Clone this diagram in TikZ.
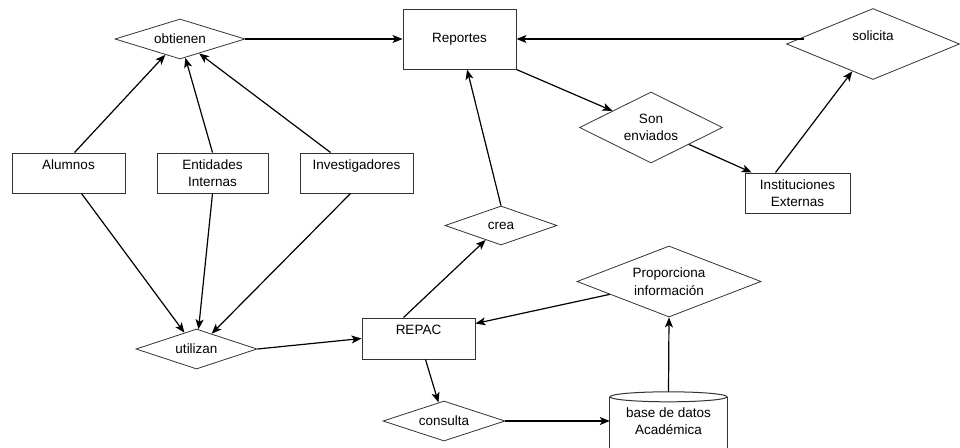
\documentclass[tikz,border=0pt]{standalone}
\usepackage{fontspec}
\setmainfont{Liberation Sans}
\usetikzlibrary{shapes.geometric,arrows.meta}

\begin{document}
\begin{tikzpicture}[x=1pt,y=-1pt,
  font=\fontsize{13.5}{17.5}\selectfont,
  relacion/.style={diamond,draw=black!80,line width=0.8pt,aspect=3,inner sep=0pt,align=center,fill=white},
  entidad/.style={rectangle,draw=black!80,line width=1pt,inner sep=0pt,align=center,minimum width=113pt,minimum height=40pt},
  flecha/.style={draw,line width=1.2pt,-{Stealth[length=10pt,width=8pt,inset=2.5pt]}}]
\useasboundingbox (0,0) rectangle (960,447);
\fill[white] (0,0) rectangle (960,447);

\node[relacion,minimum width=130pt,minimum height=40pt] (obtienen) at (180,39) {obtienen};
\node[entidad,minimum height=60pt] (reportes) at (459.5,39) {Reportes};
\node[relacion,minimum width=173pt,minimum height=71pt] (solicita) at (873,44) {solicita\\\mbox{}};
\node[relacion,minimum width=143pt,minimum height=71pt] (enviados) at (651,127.5) {Son\\enviados};
\node[entidad,minimum width=105pt] (instituciones) at (797.5,193) {Instituciones\\Externas};
\node[entidad] (alumnos) at (68.5,173) {Alumnos\\\mbox{}};
\node[entidad,minimum width=111pt] (entidades) at (212.5,173) {Entidades\\Internas};
\node[entidad] (investigadores) at (356.5,173) {Investigadores\\\mbox{}};
\node[relacion,minimum width=121pt,minimum height=40pt] (utilizan) at (196.5,349) {utilizan};
\node[entidad,minimum height=41pt] (repac) at (418.5,338.5) {REPAC\\\mbox{}};
\node[relacion,minimum width=112pt,minimum height=39pt] (crea) at (501,225.5) {crea};
\node[relacion,minimum width=122pt,minimum height=40pt] (consulta) at (444,421) {consulta};
\node[relacion,minimum width=184pt,minimum height=71pt] (proporciona) at (669,281.5) {Proporciona\\información};
\node[minimum width=117pt,minimum height=58pt,inner sep=0pt,align=center] (base) at (668.5,421) {base de datos\\Académica};

\begin{scope}
\clip (0,0) rectangle (960,447);
\draw[black!80,line width=1pt] (base.north west) ++(0,5) -- ++(0,70) (base.north east) ++(0,5) -- ++(0,70);
\draw[black!80,line width=1pt] ([yshift=-5pt]base.north) ellipse [x radius=58.5, y radius=5];
\end{scope}

\draw[flecha] (obtienen.east) -- (reportes.west);
\draw[flecha] (reportes.east -| solicita.west) ++(18,0) -- (reportes.east);
\draw[flecha] (reportes.south east) -- (enviados);
\draw[flecha] (enviados) -- (instituciones);
\draw[flecha] ([xshift=-22pt]instituciones.north) -- (solicita);
\draw[flecha] ([xshift=6pt]alumnos.north) -- (obtienen);
\draw[flecha] (entidades.north) -- (obtienen);
\draw[flecha] ([xshift=-26pt]investigadores.north) -- (obtienen);
\draw[flecha] ([xshift=13pt]alumnos.south) -- (utilizan);
\draw[flecha] (entidades.south) -- (utilizan);
\draw[flecha] ([xshift=-6pt]investigadores.south) -- (utilizan);
\draw[flecha] (utilizan.east) -- (repac.west);
\draw[flecha] ([xshift=-15pt]repac.north) -- (crea);
\draw[flecha] (crea.north) -- (reportes);
\draw[flecha] ([xshift=7pt]repac.south) -- (consulta);
\draw[flecha] (proporciona) -- ([yshift=15pt]repac.east);
\draw[flecha] (consulta.east) -- (base.west);
\draw[flecha] (base.north) -- (proporciona.south);
\end{tikzpicture}
\end{document}
